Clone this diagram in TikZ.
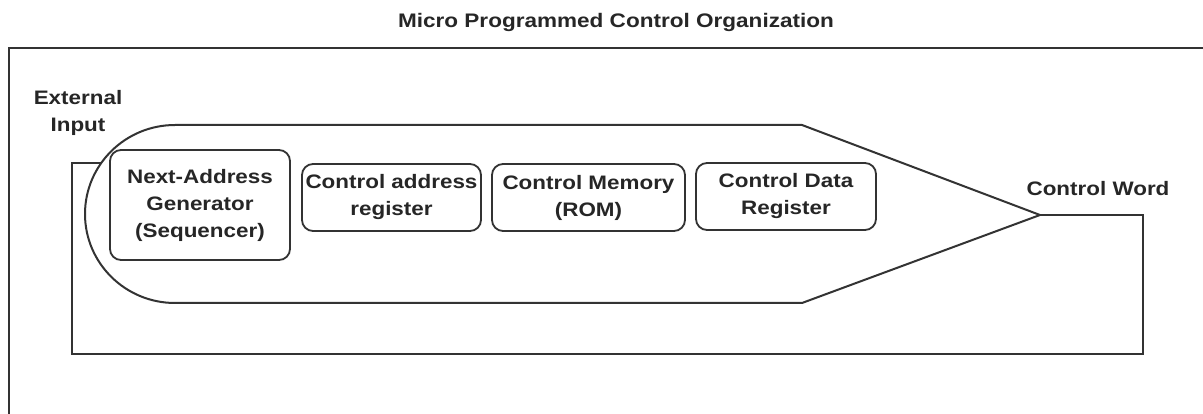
\documentclass[tikz,border=0pt]{standalone}
\usepackage{fontspec}
\setmainfont{Liberation Sans}[FakeStretch=1.15]
\begin{document}
\begin{tikzpicture}[x=1pt,y=-1pt,
  every node/.style={font=\bfseries\fontsize{19.5}{27}\selectfont, text=black!85},
  blk/.style={draw=black!80, line width=1.8pt, rounded corners=11pt, fill=white, align=center, inner sep=0pt},
  ln/.style={draw=black!80, line width=2pt}]
\useasboundingbox (0,0) rectangle (1203,414);
% outer frame
\draw[ln] (9,414) -- (9,48) -- (1203,48);
\node (title) at (616,22) {\fontsize{19.6}{23}\selectfont Micro Programmed Control Organization};
% feedback loop
\coordinate (tip) at (1040,215);
\coordinate (lp1) at (1143,215);
\coordinate (lp2) at (1143,354);
\coordinate (lp3) at (72,354);
\coordinate (lp4) at (72,163);
\coordinate (lp5) at (120,163);
\draw[ln, line join=miter] (tip) -- (lp1) -- (lp2) -- (lp3) -- (lp4) -- (lp5);
% pill shaped enclosure
\draw[ln, fill=white, line join=miter] (802,125) -- (tip) -- (802,303) -- (175,303)
  arc[start angle=90, end angle=270, x radius=90, y radius=89] -- cycle;
% blocks
\node[blk, minimum width=180pt, minimum height=110pt] (nag) at (200,205) {Next-Address\\Generator\\(Sequencer)};
\node[blk, minimum width=179pt, minimum height=67pt] (car) at (391.5,197.5) {Control address\\register};
\node[blk, minimum width=193pt, minimum height=67pt] (cm) at (588.5,197.5) {Control Memory\\(ROM)};
\node[blk, minimum width=180pt, minimum height=67pt] (cdr) at (786,196.5) {Control Data\\Register};
% labels
\node[align=center] (ext) at (78,113) {External\\Input};
\node (cw) at (1098,189) {Control Word};
\end{tikzpicture}
\end{document}
